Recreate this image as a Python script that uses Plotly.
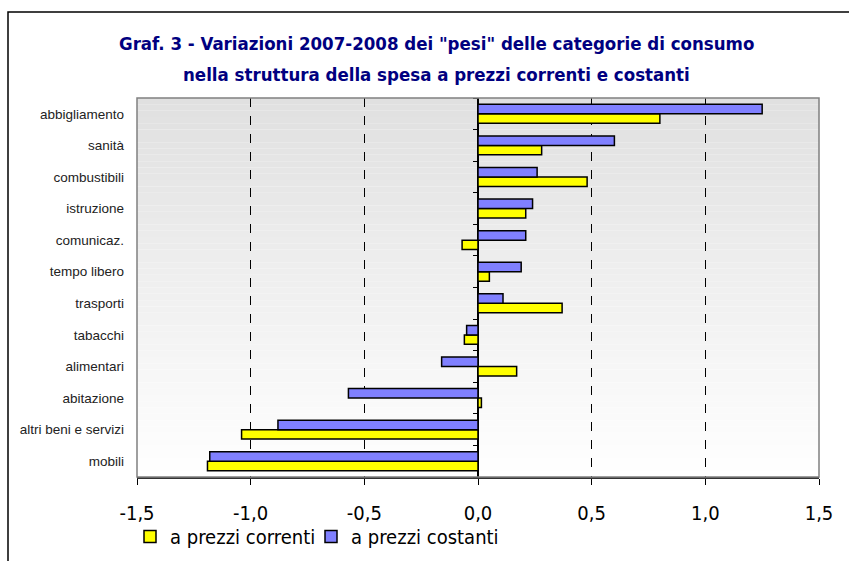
import plotly.graph_objects as go

categories = ["abbigliamento", "sanità", "combustibili", "istruzione", "comunicaz.",
              "tempo libero", "trasporti", "tabacchi", "alimentari", "abitazione",
              "altri beni e servizi", "mobili"]
correnti = [0.80, 0.28, 0.48, 0.21, -0.07, 0.05, 0.37, -0.06, 0.17, 0.015, -1.04, -1.19]
costanti = [1.25, 0.60, 0.26, 0.24, 0.21, 0.19, 0.11, -0.05, -0.16, -0.57, -0.88, -1.18]
series_names = ["a prezzi correnti", "a prezzi costanti"]
x_ticks = [-1.5, -1.0, -0.5, 0.0, 0.5, 1.0, 1.5]
x_ticktext = [f"{v:.1f}".replace(".", ",") for v in x_ticks]
title_lines = ['Graf. 3 - Variazioni 2007-2008 dei "pesi" delle categorie di consumo',
               "nella struttura della spesa a prezzi correnti e costanti"]

W, H = 849, 561
ML, MR, MT, MB = 137, 30, 98, 84
PW, PH = W - ML - MR, H - MT - MB

def px_x(p):
    return (p - ML) / PW

def px_y(p):
    return (H - MB - p) / PH

order_bottom_up = categories[::-1]
cat_range = [-0.5, len(categories) - 0.5]
cond_font = "DejaVu Sans Condensed, Tahoma, DejaVu Sans, sans-serif"

fig = go.Figure()
fig.add_trace(go.Bar(y=categories, x=correnti, orientation="h", name=series_names[0],
                     marker=dict(color="#FFFF00", line=dict(color="#000000", width=1.5)),
                     legend="legend"))
fig.add_trace(go.Bar(y=categories, x=costanti, orientation="h", name=series_names[1],
                     marker=dict(color="#8080FF", line=dict(color="#000000", width=1.5)),
                     legend="legend2"))
# invisible trace to carry the category ticks drawn on the zero line
fig.add_trace(go.Scatter(y=categories, x=[0] * len(categories), yaxis="y2", mode="markers",
                         marker=dict(opacity=0, size=1), showlegend=False, hoverinfo="skip"))

shapes = []
# gradient background of the plot area
n = 60
for i in range(n):
    t = i / (n - 1)
    g = int(round(224 + (255 - 224) * t))
    shapes.append(dict(type="rect", xref="x domain", yref="y domain", layer="below",
                       x0=0, x1=1, y0=1 - (i + 1) / n, y1=1 - i / n,
                       fillcolor=f"rgb({g},{g},{g})", line=dict(width=0)))
# plot area border
shapes.append(dict(type="rect", xref="x domain", yref="y domain", x0=0, x1=1, y0=0, y1=1,
                   line=dict(color="#808080", width=1.5)))
# outer chart frame
shapes.append(dict(type="rect", xref="paper", yref="paper",
                   x0=px_x(8), x1=px_x(W + 20), y0=px_y(H + 20), y1=px_y(12),
                   line=dict(color="#000000", width=1.5)))

annotations = []
for line, yp in zip(title_lines, [43, 75]):
    annotations.append(dict(text=f"<b>{line}</b>", xref="paper", yref="paper",
                            x=px_x(436), y=px_y(yp), xanchor="center", yanchor="middle",
                            showarrow=False,
                            font=dict(family=cond_font, size=18.5, color="#000080")))

legend_style = dict(orientation="h", xanchor="left", yanchor="top",
                    font=dict(family=cond_font, size=20, color="#000000"),
                    itemwidth=30, bgcolor="rgba(0,0,0,0)")

fig.update_layout(
    width=W, height=H,
    margin=dict(l=ML, r=MR, t=MT, b=MB, autoexpand=False),
    paper_bgcolor="white", plot_bgcolor="white",
    barmode="group", bargap=0.4, bargroupgap=0,
    showlegend=True,
    legend=dict(x=px_x(130), y=px_y(517), **legend_style),
    legend2=dict(x=px_x(311), y=px_y(517), **legend_style),
    xaxis=dict(range=[-1.5, 1.5], tickvals=x_ticks, ticktext=x_ticktext,
               showgrid=True, gridcolor="#000000", griddash="dash", gridwidth=1,
               zeroline=True, zerolinecolor="#000000", zerolinewidth=1.5,
               showline=True, linecolor="#333333", linewidth=1.5,
               ticks="outside", ticklen=6, tickcolor="#000000", tickwidth=1,
               ticklabelstandoff=11,
               tickfont=dict(family=cond_font, size=20, color="#000000")),
    yaxis=dict(type="category", categoryorder="array", categoryarray=order_bottom_up,
               range=cat_range,
               showgrid=False, zeroline=False, showline=False, ticks="",
               ticklabelstandoff=12,
               tickfont=dict(family="Liberation Sans, Arial, sans-serif", size=13.5,
                             color="#222222")),
    yaxis2=dict(type="category", categoryorder="array", categoryarray=order_bottom_up,
                range=cat_range,
                overlaying="y", anchor="free", position=0.5, side="left",
                showgrid=False, zeroline=False, showline=False, showticklabels=False,
                ticks="outside", ticklen=5, tickcolor="#000000", tickwidth=1,
                tickson="boundaries", matches="y"),
    shapes=shapes,
    annotations=annotations,
)

fig.write_html("out.html")
